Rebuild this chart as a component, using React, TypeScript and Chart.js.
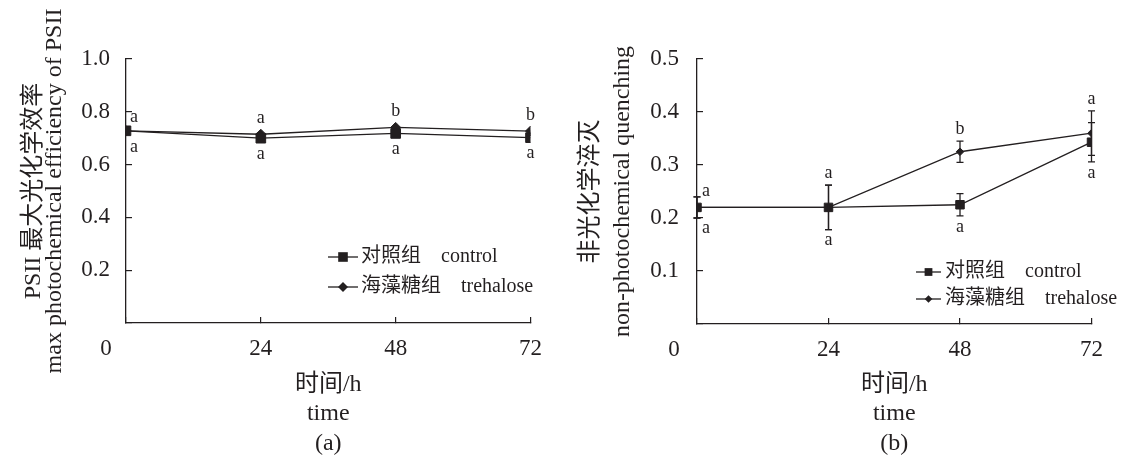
import React, { useEffect, useRef } from 'react';
import { Chart, registerables } from 'chart.js';

Chart.register(...registerables);

// ---------- data ----------
const timePoints = [0, 24, 48, 72];
const xTickLabels = ['0', '24', '48', '72'];
const seriesNames = ['对照组\u3000control', '海藻糖组\u3000trehalose'];

// (a) PSII maximum photochemical efficiency
const fvfmControl = [0.728, 0.700, 0.718, 0.702];
const fvfmTrehalose = [0.728, 0.715, 0.741, 0.727];
const fvfmControlLetters = ['a', 'a', 'a', 'a'];
const fvfmTrehaloseLetters = ['a', 'a', 'b', 'b'];
const fvfmYMax = 1.0;
const fvfmYStep = 0.2;

// (b) non-photochemical quenching
const npqControl = [0.220, 0.220, 0.225, 0.343];
const npqControlErr = [0.020, 0.042, 0.021, 0.037];
const npqTrehalose = [0.220, 0.220, 0.325, 0.360];
const npqTrehaloseErr = [0.020, 0.042, 0.020, 0.042];
const npqControlLetters = ['a', 'a', 'a', 'a'];
const npqTrehaloseLetters = ['a', 'a', 'b', 'a'];
const npqYMax = 0.5;
const npqYStep = 0.1;

const yTitleA = ['PSII 最大光化学效率', 'max photochemical efficiency of PSII'];
const yTitleB = ['非光化学淬灭', 'non-photochemical quenching'];
const xTitleA = ['时间/h', 'time', '(a)'];
const xTitleB = ['时间/h', 'time', '(b)'];

// ---------- style ----------
const INK = '#231f20';
const FONT = "'Liberation Serif', 'Times New Roman', 'Noto Sans CJK SC', serif";

function drawMarker(ctx: CanvasRenderingContext2D, style: string, x: number, y: number, r: number) {
  ctx.beginPath();
  if (style === 'rect') {
    const h = r * Math.SQRT1_2;
    ctx.rect(x - h, y - h, 2 * h, 2 * h);
  } else {
    ctx.moveTo(x - r, y);
    ctx.lineTo(x, y - r);
    ctx.lineTo(x + r, y);
    ctx.lineTo(x, y + r);
    ctx.closePath();
  }
  ctx.fillStyle = INK;
  ctx.fill();
}

const errorBarPlugin = {
  id: 'errorBars',
  afterDatasetsDraw(chart: any, _a: any, opts: any) {
    const { ctx } = chart;
    const ys = chart.scales.y;
    ctx.save();
    ctx.strokeStyle = INK;
    ctx.lineWidth = 1.3;
    chart.data.datasets.forEach((ds: any, i: number) => {
      if (!ds.err) return;
      const meta = chart.getDatasetMeta(i);
      meta.data.forEach((pt: any, j: number) => {
        const v = ds.data[j].y;
        const e = ds.err[j];
        const yt = ys.getPixelForValue(v + e);
        const yb = ys.getPixelForValue(v - e);
        const cw = opts.cap || 3.5;
        ctx.beginPath();
        ctx.moveTo(pt.x, yt);
        ctx.lineTo(pt.x, yb);
        ctx.moveTo(pt.x - cw, yt);
        ctx.lineTo(pt.x + cw, yt);
        ctx.moveTo(pt.x - cw, yb);
        ctx.lineTo(pt.x + cw, yb);
        ctx.stroke();
      });
    });
    ctx.restore();
  },
};

const letterPlugin = {
  id: 'sigLetters',
  afterDatasetsDraw(chart: any, _a: any, opts: any) {
    const { ctx } = chart;
    const ys = chart.scales.y;
    ctx.save();
    ctx.fillStyle = INK;
    ctx.font = `${opts.size}px ${FONT}`;
    ctx.textAlign = 'center';
    ctx.textBaseline = 'middle';
    chart.data.datasets.forEach((ds: any, i: number) => {
      const meta = chart.getDatasetMeta(i);
      const above = ds.letterSide === 'above';
      meta.data.forEach((pt: any, j: number) => {
        const v = ds.data[j].y;
        const e = ds.err ? ds.err[j] : 0;
        const base = ys.getPixelForValue(above ? v + e : v - e);
        let dy = above ? opts.above : opts.below;
        let dx = 0;
        if (j === 0) {
          dx = opts.firstDx;
          dy = above ? opts.firstAbove : opts.firstBelow;
        }
        ctx.fillText(ds.letters[j], pt.x + dx, base + dy);
      });
    });
    ctx.restore();
  },
};

const legendPlugin = {
  id: 'panelLegend',
  afterDraw(chart: any, _a: any, opts: any) {
    const { ctx } = chart;
    ctx.save();
    chart.data.datasets.forEach((ds: any, i: number) => {
      const y = opts.y + i * opts.dy;
      ctx.strokeStyle = INK;
      ctx.lineWidth = 1.3;
      ctx.beginPath();
      ctx.moveTo(opts.x, y);
      ctx.lineTo(opts.x + opts.lineLen, y);
      ctx.stroke();
      drawMarker(ctx, ds.pointStyle, opts.x + opts.lineLen / 2, y, ds.pointStyle === 'rect' ? opts.sq : opts.di);
      ctx.fillStyle = INK;
      ctx.font = `${opts.size}px ${FONT}`;
      ctx.textAlign = 'left';
      ctx.textBaseline = 'middle';
      ctx.fillText(ds.label, opts.textX, y);
    });
    ctx.restore();
  },
};

type Panel = {
  control: number[];
  trehalose: number[];
  controlErr?: number[];
  trehaloseErr?: number[];
  controlLetters: string[];
  trehaloseLetters: string[];
  yMax: number;
  yStep: number;
  yTitle: string[];
  xTitle: string[];
  width: number;
  yAxisWidth: number;
  padRight: number;
  padTop: number;
  xAxisHeight: number;
  yTickPad: number;
  yTitlePad: number;
  yTitleLH: number;
  zeroPad: number;
  sqR: number;
  diR: number;
  letters: any;
  legend: any;
};

function buildConfig(p: Panel): any {
  const common = {
    borderColor: INK,
    backgroundColor: INK,
    borderWidth: 1.3,
    pointBackgroundColor: INK,
    pointBorderColor: INK,
    pointBorderWidth: 1,
    tension: 0,
  };
  return {
    type: 'line',
    data: {
      datasets: [
        {
          ...common,
          label: seriesNames[0],
          data: timePoints.map((t, i) => ({ x: t, y: p.control[i] })),
          pointStyle: 'rect',
          pointRadius: p.sqR,
          err: p.controlErr,
          letters: p.controlLetters,
          letterSide: 'below',
        },
        {
          ...common,
          label: seriesNames[1],
          data: timePoints.map((t, i) => ({ x: t, y: p.trehalose[i] })),
          pointStyle: 'rectRot',
          pointRadius: p.diR,
          err: p.trehaloseErr,
          letters: p.trehaloseLetters,
          letterSide: 'above',
        },
      ],
    },
    plugins: [errorBarPlugin, letterPlugin, legendPlugin],
    options: {
      responsive: false,
      animation: false,
      layout: { padding: { left: 0, right: p.padRight, top: p.padTop, bottom: 0 } },
      plugins: {
        legend: { display: false },
        tooltip: { enabled: false },
        errorBars: { cap: 3.5 },
        sigLetters: p.letters,
        panelLegend: p.legend,
      },
      scales: {
        x: {
          type: 'linear',
          min: 0,
          max: 72,
          afterFit: (s: any) => { s.height = p.xAxisHeight; },
          border: { display: true, color: INK, width: 1.3 },
          grid: { display: true, drawOnChartArea: false, drawTicks: true, tickLength: -6, color: INK, lineWidth: 1.2 },
          ticks: {
            stepSize: 24,
            autoSkip: false,
            maxRotation: 0,
            padding: 18,
            color: INK,
            font: { family: FONT, size: 23 },
            callback: (_v: any, idx: number) =>
              idx === 0 ? xTickLabels[0] + ' '.repeat(p.zeroPad) : xTickLabels[idx],
          },
          title: {
            display: true,
            text: p.xTitle,
            color: INK,
            font: { family: FONT, size: 24, lineHeight: '29.5px' },
            padding: { top: 0, bottom: 5 },
          },
        },
        y: {
          type: 'linear',
          min: 0,
          max: p.yMax,
          afterFit: (s: any) => { s.width = p.yAxisWidth; },
          border: { display: true, color: INK, width: 1.3 },
          grid: { display: true, drawOnChartArea: false, drawTicks: true, tickLength: -6, color: INK, lineWidth: 1.2 },
          ticks: {
            stepSize: p.yStep,
            padding: p.yTickPad,
            color: INK,
            font: { family: FONT, size: 23 },
            callback: (v: any) => (v === 0 ? '' : Number(v).toFixed(1)),
          },
          title: {
            display: true,
            text: p.yTitle,
            color: INK,
            font: { family: FONT, size: 24, lineHeight: `${p.yTitleLH}px` },
            padding: { top: p.yTitlePad, bottom: 0 },
          },
        },
      },
    },
  };
}

const panelA: Panel = {
  control: fvfmControl,
  trehalose: fvfmTrehalose,
  controlLetters: fvfmControlLetters,
  trehaloseLetters: fvfmTrehaloseLetters,
  yMax: fvfmYMax,
  yStep: fvfmYStep,
  yTitle: yTitleA,
  xTitle: xTitleA,
  width: 560,
  yAxisWidth: 126,
  padRight: 25,
  padTop: 59,
  xAxisHeight: 140,
  yTickPad: 22,
  yTitlePad: 23.5,
  yTitleLH: 21,
  zeroPad: 7,
  sqR: 6.8,
  diR: 5,
  letters: { size: 18, above: -16, below: 16, firstDx: 8, firstAbove: -14, firstBelow: 16 },
  legend: { x: 328, y: 257, dy: 30, lineLen: 30, textX: 361, size: 20, sq: 6.8, di: 5 },
};

const panelB: Panel = {
  control: npqControl,
  trehalose: npqTrehalose,
  controlErr: npqControlErr,
  trehaloseErr: npqTrehaloseErr,
  controlLetters: npqControlLetters,
  trehaloseLetters: npqTrehaloseLetters,
  yMax: npqYMax,
  yStep: npqYStep,
  yTitle: yTitleB,
  xTitle: xTitleB,
  width: 561,
  yAxisWidth: 137,
  padRight: 15,
  padTop: 59,
  xAxisHeight: 139,
  yTickPad: 24,
  yTitlePad: 15,
  yTitleLH: 32,
  zeroPad: 8,
  sqR: 6,
  diR: 3.8,
  letters: { size: 18, above: -12, below: 11, firstDx: 9, firstAbove: -6, firstBelow: 10 },
  legend: { x: 356, y: 272, dy: 27, lineLen: 25, textX: 385, size: 20, sq: 5.5, di: 3.8 },
};

function ChartPanel({ panel, left }: { panel: Panel; left: number }) {
  const ref = useRef<HTMLCanvasElement | null>(null);
  useEffect(() => {
    if (!ref.current) return;
    const chart = new Chart(ref.current, buildConfig(panel));
    return () => chart.destroy();
  }, [panel]);
  return (
    <div style={{ position: 'absolute', left, top: 0, width: panel.width, height: 463 }}>
      <canvas ref={ref} width={panel.width} height={463} style={{ width: panel.width, height: 463, display: 'block' }} />
    </div>
  );
}

export default function App() {
  return (
    <div style={{ position: 'absolute', left: 0, top: 0, width: 1121, height: 463, background: '#fff' }}>
      <ChartPanel panel={panelA} left={0} />
      <ChartPanel panel={panelB} left={560} />
    </div>
  );
}
